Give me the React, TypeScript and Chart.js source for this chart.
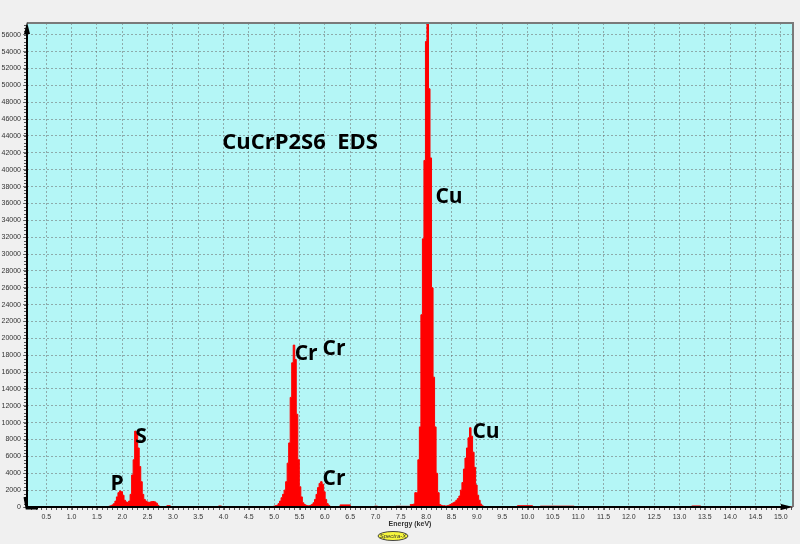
import { useEffect, useRef } from "react"
import { Chart, registerables } from "chart.js"
import type { Plugin } from "chart.js"

Chart.register(...registerables)

// energy axis range (keV) and count axis range
const xMin = 0.12
const xMax = 15.24
const yMax = 57400
const yStep = 2000
const yLastTick = 56000

// spectrum channels (keV per channel)
const channelWidth = 0.03

// P Ka / S Ka region, channels from 1.705 keV
const psStart = 1.705
const psCounts = [
  50, 100, 150, 250, 400, 700, 1200, 1700, 1900, 1800,
  1400, 800, 600, 550, 700, 1500, 3800, 5600, 9000, 8800,
  7000, 4800, 3000, 1500, 900, 700, 600, 550, 600, 650,
  650, 600, 450, 200, 50,
]

// Cr Ka / Cr Kb region, channels from 4.985 keV
const crStart = 4.985
const crCounts = [
  100, 150, 200, 400, 700, 1100, 1500, 2000, 3000, 5200,
  7600, 13000, 17100, 19200, 17500, 11000, 5600, 2400, 1200, 500,
  300, 200, 150, 150, 200, 300, 500, 900, 1500, 2300,
  2800, 3000, 2700, 1800, 900, 400, 200,
]

// Cu Ka / Cu Kb region, channels from 7.685 keV
const cuStart = 7.685
const cuCounts = [
  300, 300, 350, 1700, 1700, 5600, 9500, 22800, 31800, 41100,
  55200, 58000, 49600, 41400, 26000, 15400, 9500, 4000, 1700, 300,
  200, 150, 150, 100, 150, 200, 300, 400, 500, 600,
  800, 1000, 1300, 2000, 2900, 4500, 5800, 7000, 8200, 9400,
  8400, 6500, 4700, 2600, 1400, 800, 350, 150, 0,
]

// small background features: from / to (keV) and counts
const minorFrom = [2.88, 3.9, 6.3, 6.98, 7.4, 9.8, 10.25, 13.24]
const minorTo = [2.95, 3.96, 6.5, 7.04, 7.66, 10.1, 10.92, 13.42]
const minorCounts = [150, 120, 250, 100, 80, 150, 100, 120]

// peak labels
const labelTexts = ["P", "S", "Cr", "Cr", "Cr", "Cu", "Cu"]
const labelEnergies = [1.9, 2.37, 5.63, 6.18, 6.18, 8.45, 9.18]
const labelCounts = [2730, 8300, 18150, 18750, 3320, 36780, 8900]

const titleText = "CuCrP2S6  EDS"
const titleEnergy = 5.51
const titleCounts = 43190

function buildSpectrum() {
  const pts: { x: number; y: number }[] = []
  const addRegion = (start: number, counts: number[]) => {
    counts.forEach((c, i) => pts.push({ x: start + i * channelWidth, y: c }))
    pts.push({ x: start + counts.length * channelWidth, y: 0 })
  }
  addRegion(psStart, psCounts)
  addRegion(crStart, crCounts)
  addRegion(cuStart, cuCounts)
  minorFrom.forEach((f, i) => {
    pts.push({ x: f, y: minorCounts[i] }, { x: minorTo[i], y: 0 })
  })
  pts.push({ x: xMin, y: 0 }, { x: xMax, y: 0 })
  return pts.sort((a, b) => a.x - b.x)
}

const frame: Plugin<"line"> = {
  id: "frame",
  beforeDraw(chart) {
    const { ctx, chartArea: a, width, height } = chart
    ctx.save()
    ctx.fillStyle = "#f0f0f0"
    ctx.fillRect(0, 0, width, height)
    ctx.fillStyle = "#b4f6f6"
    ctx.fillRect(a.left, a.top, a.right - a.left, a.bottom - a.top)
    ctx.restore()
  },
  afterDatasetsDraw(chart) {
    const { ctx, scales } = chart
    ctx.save()
    ctx.fillStyle = "#000"
    ctx.textAlign = "center"
    ctx.textBaseline = "middle"
    ctx.font = "bold 21px 'Open Sans'"
    labelTexts.forEach((t, i) => {
      ctx.fillText(t, scales.x.getPixelForValue(labelEnergies[i]), scales.y.getPixelForValue(labelCounts[i]))
    })
    ctx.font = "bold 22px 'Open Sans'"
    ctx.fillText(titleText, scales.x.getPixelForValue(titleEnergy), scales.y.getPixelForValue(titleCounts))
    ctx.restore()
  },
  afterDraw(chart) {
    const { ctx, chartArea: a, scales } = chart
    ctx.save()
    // top / right border
    ctx.strokeStyle = "#7a7a7a"
    ctx.lineWidth = 2
    ctx.beginPath()
    ctx.moveTo(a.left, a.top)
    ctx.lineTo(a.right, a.top)
    ctx.lineTo(a.right, a.bottom)
    ctx.stroke()

    // minor ticks
    ctx.strokeStyle = "#555"
    ctx.lineWidth = 1
    ctx.beginPath()
    for (let v = 0; v <= yMax; v += 400) {
      const y = Math.round(scales.y.getPixelForValue(v)) + 0.5
      ctx.moveTo(a.left - 3, y)
      ctx.lineTo(a.left, y)
    }
    for (let v = 0.2; v <= xMax; v += 0.1) {
      const x = Math.round(scales.x.getPixelForValue(v)) + 0.5
      ctx.moveTo(x, a.bottom)
      ctx.lineTo(x, a.bottom + 3)
    }
    ctx.stroke()

    // black axes with arrows
    ctx.strokeStyle = "#000"
    ctx.fillStyle = "#000"
    ctx.lineWidth = 2
    ctx.beginPath()
    ctx.moveTo(a.left, a.top + 4)
    ctx.lineTo(a.left, a.bottom)
    ctx.lineTo(a.right - 8, a.bottom)
    ctx.stroke()
    ctx.beginPath()
    ctx.moveTo(a.left - 3, a.top + 11)
    ctx.lineTo(a.left + 3, a.top + 11)
    ctx.lineTo(a.left, a.top - 1)
    ctx.closePath()
    ctx.fill()
    ctx.beginPath()
    ctx.moveTo(a.right - 12, a.bottom - 3)
    ctx.lineTo(a.right - 12, a.bottom + 3)
    ctx.lineTo(a.right, a.bottom)
    ctx.closePath()
    ctx.fill()
    ctx.lineWidth = 3
    ctx.beginPath()
    ctx.moveTo(a.left - 2, a.bottom - 10)
    ctx.lineTo(a.left, a.bottom + 1)
    ctx.lineTo(a.left + 11, a.bottom + 1)
    ctx.stroke()

    // Spectra-X badge
    ctx.beginPath()
    ctx.ellipse(393, 536, 15, 4.5, 0, 0, Math.PI * 2)
    ctx.fillStyle = "#f6f63c"
    ctx.fill()
    ctx.lineWidth = 1
    ctx.strokeStyle = "#444"
    ctx.stroke()
    ctx.fillStyle = "#333"
    ctx.font = "italic 6px 'Liberation Sans'"
    ctx.textAlign = "center"
    ctx.textBaseline = "middle"
    ctx.fillText("Spectra-X", 393, 536.5)
    ctx.restore()
  },
}

export default function App() {
  const chartRef = useRef<HTMLCanvasElement>(null)

  useEffect(() => {
    if (!chartRef.current) return
    const tickFont = { family: "'Liberation Sans'", size: 7 }

    const chart = new Chart(chartRef.current, {
      type: "line",
      data: {
        datasets: [
          {
            data: buildSpectrum(),
            stepped: true,
            fill: "origin",
            borderColor: "#ff0000",
            backgroundColor: "#ff0000",
            borderWidth: 1,
            pointRadius: 0,
          },
        ],
      },
      options: {
        responsive: false,
        animation: false,
        events: [],
        layout: { padding: { left: 0, right: 7, top: 23, bottom: 0 } },
        plugins: {
          legend: { display: false },
          tooltip: { enabled: false },
        },
        scales: {
          x: {
            type: "linear",
            min: xMin,
            max: xMax,
            afterFit: (s) => {
              s.height = 37
            },
            border: { display: false, dash: [2, 2] },
            grid: { color: "rgba(110,110,110,0.55)", tickLength: 3, tickColor: "#777" },
            ticks: {
              stepSize: 0.5,
              includeBounds: false,
              autoSkip: false,
              maxRotation: 0,
              padding: 3,
              color: "#333",
              font: tickFont,
              callback: (v) => Number(v).toFixed(1),
            },
            title: {
              display: true,
              text: "Energy (keV)",
              color: "#333",
              font: { family: "'Liberation Sans'", size: 7, weight: "bold", lineHeight: 1 },
              padding: { top: 0, bottom: 16 },
            },
          },
          y: {
            min: 0,
            max: yMax,
            afterFit: (s) => {
              s.width = 27
            },
            afterBuildTicks: (s) => {
              const ticks = []
              for (let v = 0; v <= yLastTick; v += yStep) ticks.push({ value: v })
              s.ticks = ticks
            },
            border: { display: false, dash: [2, 2] },
            grid: { color: "rgba(110,110,110,0.55)", tickLength: 4, tickColor: "#777" },
            ticks: {
              autoSkip: false,
              padding: 2,
              color: "#333",
              font: tickFont,
              callback: (v) => String(v),
            },
          },
        },
      },
      plugins: [frame],
    })

    return () => {
      chart.destroy()
    }
  }, [])

  return (
    <div style={{ position: "fixed", left: 0, top: 0, width: 800, height: 544, background: "#f0f0f0" }}>
      <canvas ref={chartRef} width={800} height={544} />
    </div>
  )
}
